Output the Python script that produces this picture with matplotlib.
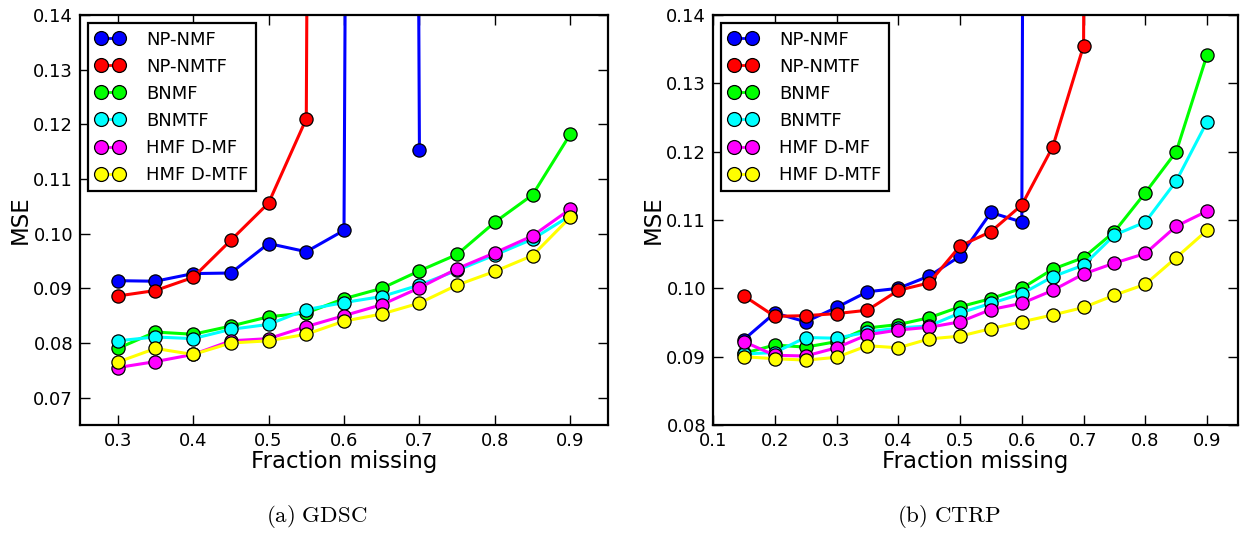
import matplotlib
matplotlib.use("Agg")
import matplotlib.pyplot as plt
import numpy as np

# ---------------- data ----------------
labels = ["NP-NMF", "NP-NMTF", "BNMF", "BNMTF", "HMF D-MF", "HMF D-MTF"]
colors = ["#0000ff", "#ff0000", "#00ff00", "#00ffff", "#ff00ff", "#ffff00"]

# GDSC
gdsc_x = [0.3, 0.35, 0.4, 0.45, 0.5, 0.55, 0.6, 0.65, 0.7, 0.75, 0.8, 0.85, 0.9]
gdsc_np_nmf = [0.0914, 0.0913, 0.0927, 0.0928, 0.0982, 0.0967, 0.1006, 1.5, 0.1153]
gdsc_np_nmtf = [0.0886, 0.0896, 0.0920, 0.0988, 0.1056, 0.1210, 1.5]
gdsc_bnmf = [0.0790, 0.0820, 0.0816, 0.0831, 0.0848, 0.0855, 0.0881, 0.0900,
             0.0932, 0.0962, 0.1021, 0.1071, 0.1182]
gdsc_bnmtf = [0.0804, 0.0811, 0.0808, 0.0825, 0.0834, 0.0861, 0.0874, 0.0885,
              0.0906, 0.0933, 0.0961, 0.0990, 0.1033]
gdsc_hmf_mf = [0.0755, 0.0766, 0.0779, 0.0804, 0.0808, 0.0830, 0.0850, 0.0870,
               0.0901, 0.0936, 0.0965, 0.0996, 0.1045]
gdsc_hmf_mtf = [0.0765, 0.0790, 0.0779, 0.0800, 0.0804, 0.0816, 0.0840, 0.0853,
                0.0873, 0.0906, 0.0931, 0.0960, 0.1030]

# CTRP
ctrp_x = [0.15, 0.2, 0.25, 0.3, 0.35, 0.4, 0.45, 0.5, 0.55, 0.6, 0.65, 0.7,
          0.75, 0.8, 0.85, 0.9]
ctrp_np_nmf = [0.0925, 0.0964, 0.0951, 0.0972, 0.0995, 0.1000, 0.1018, 0.1047,
               0.1111, 0.1097, 1.5]
ctrp_np_nmtf = [0.0989, 0.0959, 0.0960, 0.0963, 0.0968, 0.0997, 0.1008, 0.1062,
                0.1083, 0.1122, 0.1207, 0.1355, 1.5]
ctrp_bnmf = [0.0905, 0.0917, 0.0914, 0.0922, 0.0942, 0.0947, 0.0957, 0.0973,
             0.0985, 0.1000, 0.1028, 0.1045, 0.1083, 0.1140, 0.1200, 0.1342]
ctrp_bnmtf = [0.0904, 0.0906, 0.0928, 0.0927, 0.0936, 0.0942, 0.0945, 0.0964,
              0.0978, 0.0992, 0.1017, 0.1034, 0.1078, 0.1097, 0.1157, 0.1244]
ctrp_hmf_mf = [0.0922, 0.0902, 0.0901, 0.0913, 0.0932, 0.0939, 0.0943, 0.0951,
               0.0969, 0.0978, 0.0997, 0.1021, 0.1037, 0.1051, 0.1091, 0.1113]
ctrp_hmf_mtf = [0.0900, 0.0897, 0.0895, 0.0899, 0.0916, 0.0913, 0.0926, 0.0930,
                0.0941, 0.0951, 0.0961, 0.0972, 0.0990, 0.1006, 0.1045, 0.1085]

gdsc_series = [gdsc_np_nmf, gdsc_np_nmtf, gdsc_bnmf, gdsc_bnmtf, gdsc_hmf_mf, gdsc_hmf_mtf]
ctrp_series = [ctrp_np_nmf, ctrp_np_nmtf, ctrp_bnmf, ctrp_bnmtf, ctrp_hmf_mf, ctrp_hmf_mtf]

gdsc_xticks = [0.3, 0.4, 0.5, 0.6, 0.7, 0.8, 0.9]
gdsc_yticks = [0.07, 0.08, 0.09, 0.10, 0.11, 0.12, 0.13, 0.14]
ctrp_xticks = [0.1, 0.2, 0.3, 0.4, 0.5, 0.6, 0.7, 0.8, 0.9]
ctrp_yticks = [0.08, 0.09, 0.10, 0.11, 0.12, 0.13, 0.14]

plt.rcParams['font.family'] = ['DejaVu Sans']
plt.rcParams['mathtext.fontset'] = 'cm'

W, H = 1240, 533
fig = plt.figure(figsize=(W / 100, H / 100), dpi=100)


def ax_rect(x0, y0, x1, y1):
    return [x0 / W, 1 - y1 / H, (x1 - x0) / W, (y1 - y0) / H]


def draw(ax, xs, series, xlim, ylim, xticks, yticks):
    for vals, lab, col in zip(series, labels, colors):
        ax.plot(xs[:len(vals)], vals, '-o', color=col, lw=2.2, ms=9.5,
                mfc=col, mec='black', mew=0.9, label=lab)
    ax.set_xlim(*xlim)
    ax.set_ylim(*ylim)
    ax.set_xticks(xticks)
    ax.set_xticklabels([f"{t:.1f}" for t in xticks])
    ax.set_yticks(yticks)
    ax.set_yticklabels([f"{t:.2f}" for t in yticks])
    ax.tick_params(direction='in', length=7, width=1, top=True, right=True,
                   labelsize=13, pad=5)
    for s in ax.spines.values():
        s.set_linewidth(1.6)
    ax.set_xlabel("Fraction missing", fontsize=16.5, labelpad=0)
    ax.set_ylabel("MSE", fontsize=16.5, labelpad=1)
    leg = ax.legend(loc='upper left', fontsize=13, numpoints=2, handlelength=1.6,
                    handletextpad=1.2, borderaxespad=0.45, labelspacing=0.5,
                    borderpad=0.42, fancybox=False, framealpha=1,
                    edgecolor='black')
    leg.get_frame().set_linewidth(1.6)
    for h in leg.legend_handles:
        h.set_linewidth(2)
        h.set_markersize(10)


ax1 = fig.add_axes(ax_rect(80, 15, 608, 425))
draw(ax1, gdsc_x, gdsc_series, (0.25, 0.95), (0.065, 0.14), gdsc_xticks, gdsc_yticks)
ax2 = fig.add_axes(ax_rect(713, 15, 1238, 425))
draw(ax2, ctrp_x, ctrp_series, (0.1, 0.95), (0.08, 0.14), ctrp_xticks, ctrp_yticks)

fig.text(317 / W, 1 - 517 / H, r"$\mathrm{(a)\ GDSC}$", ha='center', va='center', fontsize=16.5)
fig.text(949 / W, 1 - 517 / H, r"$\mathrm{(b)\ CTRP}$", ha='center', va='center', fontsize=16.5)

fig.savefig("out.png", dpi=100)
